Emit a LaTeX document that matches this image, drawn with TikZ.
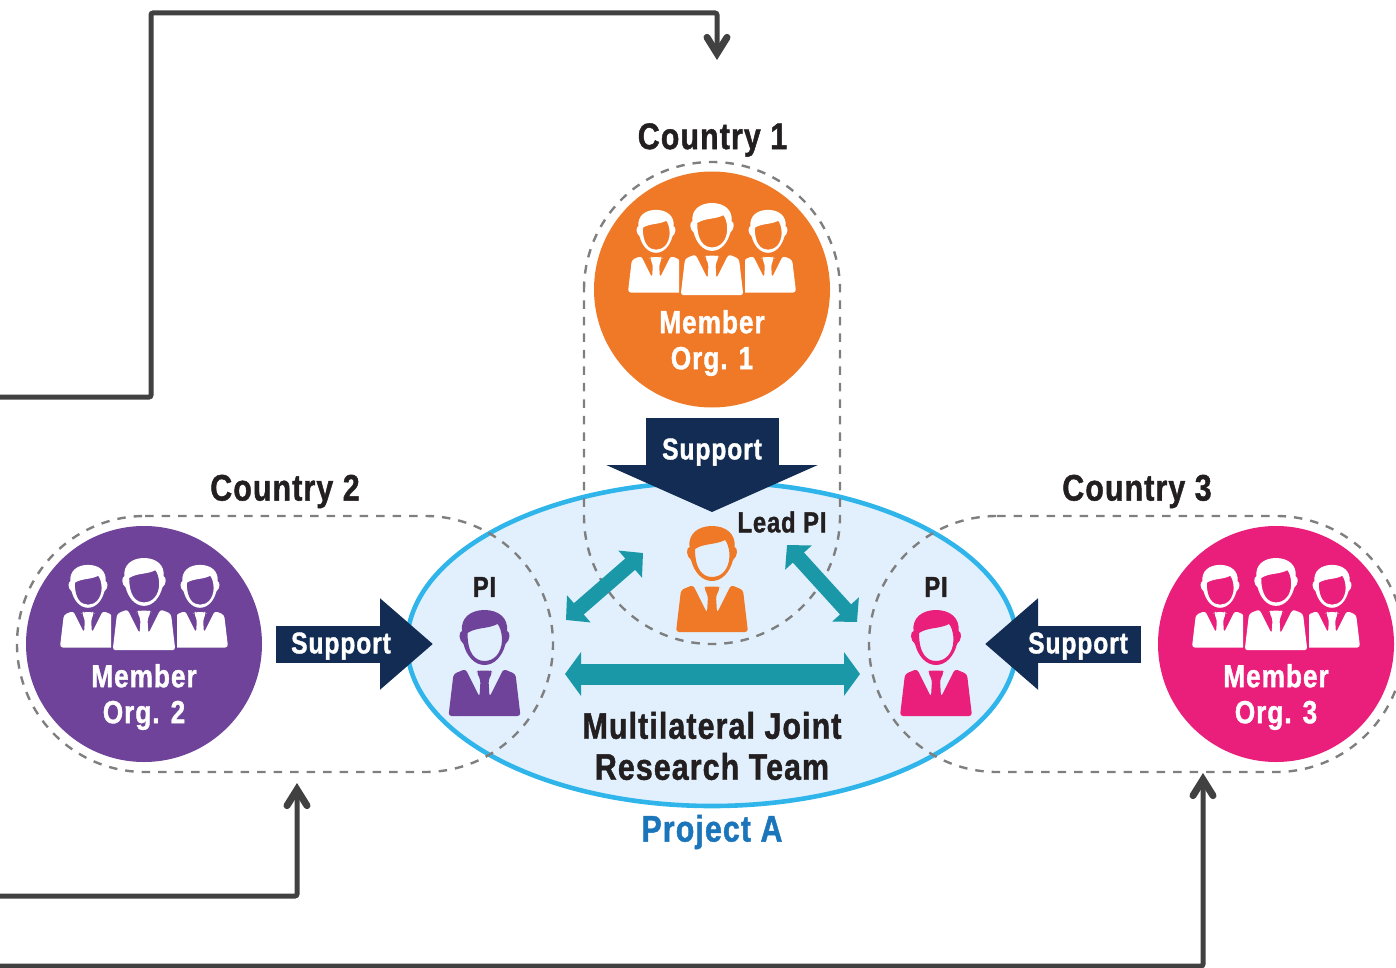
\documentclass[tikz,border=0pt]{standalone}
\usepackage{fontspec}
\setmainfont{Liberation Sans}[BoldFont={Liberation Sans Bold},BoldFeatures={FakeStretch=0.82,LetterSpace=3,FakeBold=1.2}]
\usetikzlibrary{arrows.meta}
\definecolor{cOrange}{HTML}{EF7927}
\definecolor{cPurple}{HTML}{6E4399}
\definecolor{cPink}{HTML}{EA1E7B}
\definecolor{cNavy}{HTML}{132C53}
\definecolor{cTeal}{HTML}{1A98A8}
\definecolor{cSky}{HTML}{2FB5EA}
\definecolor{cPale}{HTML}{E1F0FC}
\definecolor{cLine}{HTML}{414141}
\definecolor{cDash}{HTML}{7F7F80}
\definecolor{cBlue}{HTML}{1B75BB}
\definecolor{cInk}{HTML}{231F20}
\newcommand{\personicon}[4]{%
 \begin{scope}[shift={(#1,#2)},scale=#3]
  \fill[#4,even odd rule]
   (0,-54) .. controls (14,-54) and (24,-46) .. (22.5,-33)
   .. controls (26,-32) and (26,-24) .. (21,-20)
   .. controls (18,-8) and (10,1) .. (0,1)
   .. controls (-10,1) and (-18,-8) .. (-21,-20)
   .. controls (-26,-24) and (-26,-32) .. (-22.5,-33)
   .. controls (-24,-46) and (-14,-54) .. (0,-54) -- cycle
   (-17,-31) .. controls (-17,-10) and (-9,-3) .. (0,-3)
   .. controls (9,-3) and (17,-10) .. (17.5,-24)
   .. controls (17.5,-32) and (15,-38) .. (13,-40)
   .. controls (4,-35) and (-8,-37) .. (-17,-31) -- cycle;
  \fill[#4,rounded corners=3pt]
   (-19,5) -- (-5,33) -- (-4,16) -- (-8,8) -- (-6,6.5) -- (6,6.5) -- (8,8) -- (4,16) -- (5,33) -- (19,5)
   -- (31,10) -- (36,52) -- (-36,52) -- (-31,10) -- cycle;
 \end{scope}}
\newcommand{\trio}[2]{%
 \begin{scope}\clip (#1-90,#2-60) rectangle (#1-33,#2+60);
  \personicon{#1-56}{#2+2}{0.78}{white}\end{scope}
 \begin{scope}\clip (#1+33,#2-60) rectangle (#1+90,#2+60);
  \personicon{#1+56}{#2+2}{0.78}{white}\end{scope}
 \personicon{#1}{#2}{0.87}{white}}
\tikzset{
 orgdisc/.style={circle,minimum size=236pt,inner sep=0pt},
 capsule/.style={draw=cDash,line width=2.4pt,dash pattern=on 8.5pt off 8pt},
 supportarrow/.style={cNavy,line width=37pt,-{Triangle[length=53pt,width=88pt]}},
 teamarrow/.style={cTeal,line width=21pt,{Triangle[length=16pt,width=43pt]}-{Triangle[length=16pt,width=43pt]}},
 diagarrow/.style={cTeal,line width=15pt,{Triangle[length=17pt,width=35pt]}-{Triangle[length=17pt,width=35pt]}},
 flowline/.style={cLine,line width=5pt,rounded corners=2pt,-{Straight Barb[length=16pt,width=20pt,line width=7pt,line cap=round]}},
 head/.style={font=\fontsize{37}{40}\selectfont\bfseries,text=cInk,inner sep=0pt},
 wlabel/.style={font=\fontsize{32}{36}\selectfont\bfseries,text=white,align=center,inner sep=0pt},
 slabel/.style={font=\fontsize{30}{34}\selectfont\bfseries,text=white,inner sep=0pt},
 pilabel/.style={font=\fontsize{29}{32}\selectfont\bfseries,text=cInk,inner sep=0pt},
}
\begin{document}
\begin{tikzpicture}[x=1pt,y=-1pt]
\useasboundingbox (0,0) rectangle (1396,968);
\coordinate (f1) at (0,397); \coordinate (f1a) at (151,397); \coordinate (f1b) at (151,13); \coordinate (f1c) at (717,13); \coordinate (f1t) at (717,60);
\coordinate (f2) at (0,896); \coordinate (f2a) at (297,896); \coordinate (f2t) at (297,783);
\coordinate (f3) at (0,966); \coordinate (f3a) at (1203,966); \coordinate (f3t) at (1203,773);
\path[fill=cPale,draw=cSky,line width=4.6pt] (712,644) ellipse [x radius=305,y radius=162];
\node[orgdisc,fill=cOrange] (org1) at (712,289.5) {};
\node[orgdisc,fill=cPurple] (org2) at (144,644) {};
\node[orgdisc,fill=cPink] (org3) at (1276,644) {};
\draw[capsule] (584,290) arc[start angle=180,end angle=360,radius=128] -- (840,516) arc[start angle=0,end angle=180,radius=128] -- cycle;
\draw[capsule] (145,516) -- (425,516) arc[start angle=-90,end angle=90,radius=128] -- (145,772) arc[start angle=90,end angle=270,radius=128] -- cycle;
\draw[capsule] (997,516) -- (1276,516) arc[start angle=-90,end angle=90,radius=128] -- (997,772) arc[start angle=90,end angle=270,radius=128] -- cycle;
\trio{712}{250}
\trio{144}{605}
\trio{1276}{605}
\personicon{712}{580}{1}{cOrange}
\personicon{484.5}{664}{1}{cPurple}
\personicon{936}{664}{1}{cPink}
\coordinate (s1a) at (712,418); \coordinate (s1b) at (712,512);
\coordinate (s2a) at (276,644); \coordinate (s2b) at (433,644);
\coordinate (s3a) at (1141,644); \coordinate (s3b) at (985,644);
\draw[supportarrow,line width=133pt,-{Triangle[length=47pt,width=210pt]}] (s1a) -- (s1b);
\draw[supportarrow] (s2a) -- (s2b);
\draw[supportarrow] (s3a) -- (s3b);
\node[slabel] (sup1) at (712,452) {Support};
\node[slabel] (sup2) at (341,646) {Support};
\node[slabel] (sup3) at (1078,646) {Support};
\coordinate (t1) at (565,674); \coordinate (t2) at (860,674);
\coordinate (d1) at (566,620); \coordinate (d2) at (643,553);
\coordinate (d3) at (787,545); \coordinate (d4) at (857,622);
\draw[teamarrow] (t1) -- (t2);
\draw[diagarrow] (d1) -- (d2);
\draw[diagarrow] (d3) -- (d4);
\draw[flowline] (f1) -- (f1a) -- (f1b) -- (f1c) -- (f1t);
\draw[flowline] (f2) -- (f2a) -- (f2t);
\draw[flowline] (f3) -- (f3a) -- (f3t);
\node[head] (c1) at (712.5,140) {Country 1};
\node[head] (c2) at (285,491.5) {Country 2};
\node[head] (c3) at (1137,491.5) {Country 3};
\node[wlabel] (m1) at (712,343) {Member\\Org. 1};
\node[wlabel] (m2) at (144,697) {Member\\Org. 2};
\node[wlabel] (m3) at (1276,697) {Member\\Org. 3};
\node[pilabel] (lead) at (782,522) {Lead PI};
\node[pilabel] (pi2) at (484.5,587) {PI};
\node[pilabel] (pi3) at (936,587) {PI};
\node[head,align=center,font=\fontsize{37}{41}\selectfont\bfseries] (team) at (712,746) {Multilateral Joint\\Research Team};
\node[head,text=cBlue] (proj) at (712,832) {Project A};
\end{tikzpicture}
\end{document}
